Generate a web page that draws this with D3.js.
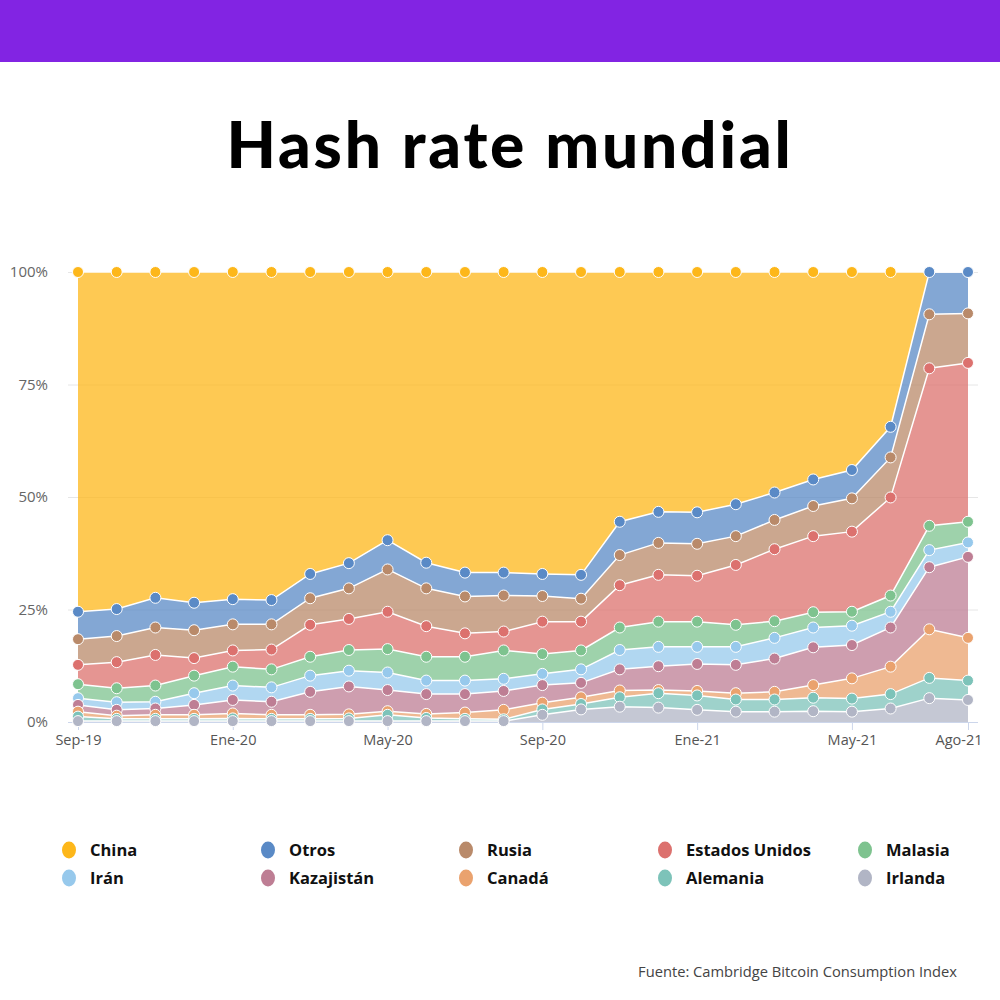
<!DOCTYPE html>
<html>
<head>
<meta charset="utf-8">
<script src="https://cdn.jsdelivr.net/npm/d3@7"></script>
<style>
  html, body { margin: 0; padding: 0; background: #fff; }
  svg { display: block; }
</style>
</head>
<body>
<svg id="chart" width="1000" height="1000"></svg>
<script>
// ---- DATA (percent share of global hash rate) ----
const months = ["Sep-19","Oct-19","Nov-19","Dic-19","Ene-20","Feb-20","Mar-20","Abr-20","May-20","Jun-20","Jul-20","Ago-20",
                "Sep-20","Oct-20","Nov-20","Dic-20","Ene-21","Feb-21","Mar-21","Abr-21","May-21","Jun-21","Jul-21","Ago-21"];
const tickLabels = ["Sep-19","Ene-20","May-20","Sep-20","Ene-21","May-21","Ago-21"];
const yTicks = [0, 25, 50, 75, 100];

const china      = [75.5,74.9,72.4,73.5,72.7,72.9,67.1,64.7,59.6,64.6,66.8,66.8,67.1,67.3,55.5,53.3,53.4,51.6,49.0,46.1,44.0,34.4,null,null];
const otros      = [6.1,6.0,6.6,6.1,5.6,5.4,5.4,5.6,6.5,5.7,5.3,5.1,4.9,5.3,7.4,6.9,7.0,7.1,6.1,5.9,6.3,6.8,9.4,9.2];
const rusia      = [5.7,5.8,6.1,6.2,5.8,5.6,5.9,6.8,9.4,8.4,8.2,8.0,5.7,5.1,6.7,7.1,7.1,6.4,6.5,6.7,7.4,8.9,12.0,11.0];
const eeuu       = [4.3,5.8,6.8,3.9,3.6,4.4,7.1,6.9,8.3,6.8,5.2,4.2,7.2,6.4,9.4,10.4,10.2,13.3,16.0,16.9,17.8,21.8,35.0,35.3];
const malasia    = [3.1,3.1,3.6,3.9,4.2,4.0,4.2,4.6,5.2,5.3,5.3,6.3,4.4,4.2,5.0,5.6,5.6,4.9,3.7,3.4,3.1,3.6,5.4,4.6];
const iran       = [1.5,1.7,1.5,2.6,3.2,3.2,3.6,3.5,3.9,3.0,3.0,2.7,2.5,3.0,4.3,4.3,3.8,4.0,4.6,4.4,4.3,3.5,3.8,3.2];
const kazajistan = [1.5,1.3,1.4,2.2,3.0,2.9,5.1,6.2,4.7,4.4,4.1,4.2,3.9,3.2,4.7,5.3,6.0,6.3,7.4,8.4,7.4,8.7,13.8,18.0];
const canada     = [1.1,0.7,0.9,0.9,1.1,0.9,0.9,0.9,0.8,0.9,1.4,2.1,1.5,1.5,1.5,0.7,1.0,1.4,1.7,2.8,4.5,6.1,10.8,9.5];
const alemania   = [1.0,0.5,0.5,0.5,0.6,0.5,0.5,0.6,1.4,0.7,0.5,0.4,1.2,1.2,2.1,3.2,3.2,2.7,2.7,3.0,2.9,3.2,4.5,4.3];
const irlanda    = [0.2,0.2,0.2,0.2,0.2,0.2,0.2,0.2,0.2,0.2,0.2,0.2,1.6,2.8,3.4,3.2,2.7,2.3,2.3,2.4,2.3,3.0,5.3,4.9];

// legend / series order (top of stack first, as in legend)
const seriesNames = ["China","Otros","Rusia","Estados Unidos","Malasia","Irán","Kazajistán","Canadá","Alemania","Irlanda"];
const seriesValues = [china, otros, rusia, eeuu, malasia, iran, kazajistan, canada, alemania, irlanda];
const seriesColors = ["#FDB71A","#5A8AC6","#B98A6A","#DC716E","#7EC38F","#97C9EC","#BE7E94","#EAA26E","#7DC3B9","#B1B5C5"];

// ---- BUILD TABLE ----
const table = months.map((m, i) => {
  const row = { month: m, i: i };
  seriesNames.forEach((s, k) => { row[s] = seriesValues[k][i] == null ? 0 : seriesValues[k][i]; });
  return row;
});

const stackKeys = seriesNames.slice().reverse(); // bottom -> top
const stacked = d3.stack().keys(stackKeys)(table);

// ---- LAYOUT ----
const svg = d3.select("#chart");
const plotLeft = 68, plotRight = 978, plotTop = 272, plotBottom = 722;

svg.append("rect").attr("x", 0).attr("y", 0).attr("width", 1000).attr("height", 62).attr("fill", "#8224E3");

svg.append("text")
  .attr("x", 510).attr("y", 168)
  .attr("text-anchor", "middle")
  .attr("font-family", "Lato, 'Open Sans', sans-serif")
  .attr("font-weight", 900)
  .attr("font-size", 64)
  .attr("letter-spacing", 2.8)
  .attr("fill", "#000")
  .text("Hash rate mundial");

const x = d3.scaleLinear().domain([0, months.length - 1]).range([78, 968]);
const y = d3.scaleLinear().domain([0, 100]).range([plotBottom, plotTop]);

// grid
const grid = svg.append("g");
grid.selectAll("line").data(yTicks.filter(t => t > 0)).join("line")
  .attr("x1", plotLeft).attr("x2", plotRight)
  .attr("y1", d => y(d) + 0.5).attr("y2", d => y(d) + 0.5)
  .attr("stroke", "#e6e6e6").attr("stroke-width", 1);

// y axis labels
const yAxis = d3.axisLeft(y).tickValues(yTicks).tickFormat(d => d + "%").tickSize(0).tickPadding(0);
const yG = svg.append("g").attr("transform", `translate(48,0)`).call(yAxis);
yG.select(".domain").remove();
yG.selectAll("text").attr("font-family", "'Open Sans', sans-serif").attr("font-size", 15).attr("fill", "#666");

// areas
const area = d3.area()
  .x(d => x(d.data.i))
  .y0(d => y(d[0]))
  .y1(d => y(d[1]));

const colorOf = name => seriesColors[seriesNames.indexOf(name)];

svg.append("g").selectAll("path").data(stacked).join("path")
  .attr("d", area)
  .attr("fill", d => colorOf(d.key))
  .attr("fill-opacity", 0.75)
  .attr("stroke", "none");

// white top lines
const line = d3.line().x(d => x(d.data.i)).y(d => y(d[1]));
svg.append("g").selectAll("path").data(stacked).join("path")
  .attr("d", line)
  .attr("fill", "none")
  .attr("stroke", "#fff")
  .attr("stroke-width", 1.5);

// x axis
const tickIdx = tickLabels.map(t => months.indexOf(t));
const xAxis = d3.axisBottom(x).tickValues(tickIdx).tickFormat(i => months[i]).tickSize(8).tickPadding(5);
const xG = svg.append("g").attr("transform", `translate(0,${plotBottom})`).call(xAxis);
xG.select(".domain").remove();
xG.selectAll(".tick line").attr("stroke", "#ccd6eb");
xG.selectAll("text").attr("font-family", "'Open Sans', sans-serif").attr("font-size", 14.5).attr("fill", "#555");
// last label justified to stay inside (as the original does)
xG.selectAll(".tick").filter(i => i === months.length - 1).select("text")
  .attr("text-anchor", "end").attr("x", 14);
svg.append("line").attr("x1", plotLeft).attr("x2", plotRight)
  .attr("y1", plotBottom + 0.5).attr("y2", plotBottom + 0.5)
  .attr("stroke", "#ccd6eb").attr("stroke-width", 1);

// markers: draw in legend order (China first, Irlanda last on top)
const markerLayers = seriesNames.map(name => stacked.find(s => s.key === name));
markerLayers.forEach(layer => {
  const k = seriesNames.indexOf(layer.key);
  const pts = layer.filter((d, i) => seriesValues[k][i] != null);
  svg.append("g").selectAll("circle").data(pts).join("circle")
    .attr("cx", d => x(d.data.i))
    .attr("cy", d => y(d[1]))
    .attr("r", 5.5)
    .attr("fill", seriesColors[k])
    .attr("stroke", "#fff")
    .attr("stroke-width", 1);
});

// legend
const legCols = [69, 268, 466, 665, 865];
const legRows = [850, 878];
const leg = svg.append("g");
seriesNames.forEach((name, k) => {
  const col = k % 5, row = Math.floor(k / 5);
  const g = leg.append("g").attr("transform", `translate(${legCols[col]},${legRows[row]})`);
  g.append("ellipse").attr("cx", 0).attr("cy", 0).attr("rx", 7).attr("ry", 8.5).attr("fill", seriesColors[k]);
  g.append("text").attr("x", 21).attr("y", 6)
    .attr("font-family", "'Open Sans', sans-serif").attr("font-weight", 700)
    .attr("font-size", 16.5).attr("fill", "#111")
    .text(name);
});

// source
svg.append("text")
  .attr("x", 957).attr("y", 977)
  .attr("text-anchor", "end")
  .attr("font-family", "'Open Sans', sans-serif")
  .attr("font-size", 14.7).attr("fill", "#444")
  .text("Fuente: Cambridge Bitcoin Consumption Index");
</script>
</body>
</html>
